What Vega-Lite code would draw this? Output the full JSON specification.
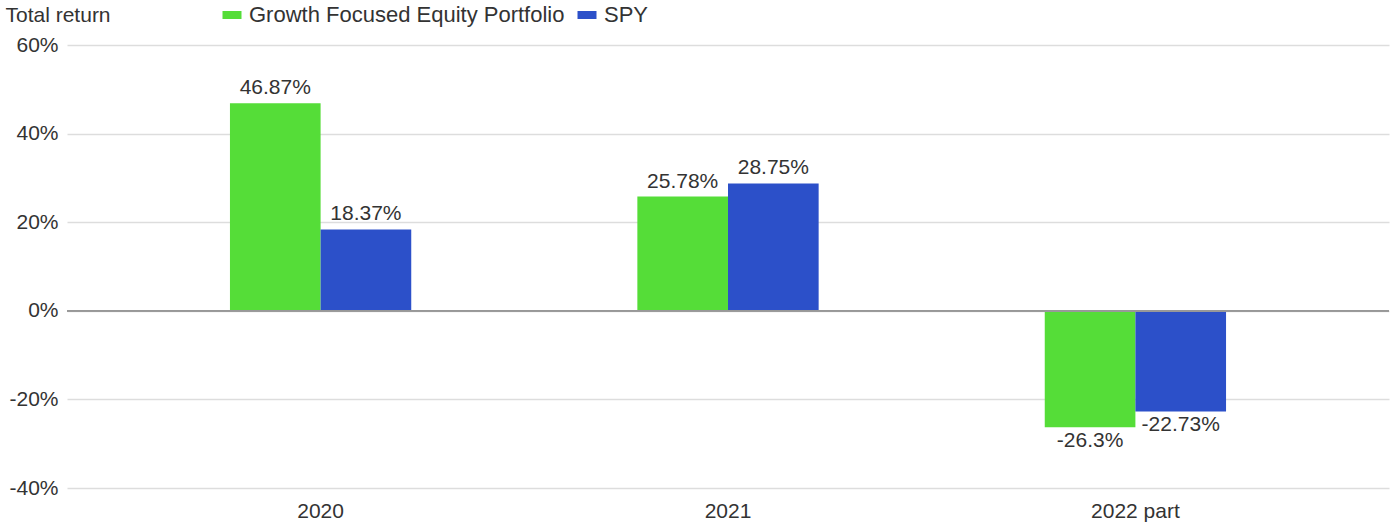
{
  "$schema": "https://vega.github.io/schema/vega-lite/v6.json",
  "width": 1322,
  "height": 443,
  "autosize": {"type": "none"},
  "padding": {"left": 67, "top": 45, "right": 3, "bottom": 35},
  "background": "white",
  "config": {
    "font": "Liberation Sans",
    "view": {"stroke": null},
    "axis": {"labelFont": "Liberation Sans", "labelFontSize": 21, "labelColor": "#333333"}
  },
  "data": {
    "values": [
      {"period": "2020", "series": "Growth Focused Equity Portfolio", "value": 46.87, "label": "46.87%"},
      {"period": "2020", "series": "SPY", "value": 18.37, "label": "18.37%"},
      {"period": "2021", "series": "Growth Focused Equity Portfolio", "value": 25.78, "label": "25.78%"},
      {"period": "2021", "series": "SPY", "value": 28.75, "label": "28.75%"},
      {"period": "2022 part", "series": "Growth Focused Equity Portfolio", "value": -26.3, "label": "-26.3%"},
      {"period": "2022 part", "series": "SPY", "value": -22.73, "label": "-22.73%"}
    ]
  },
  "encoding": {
    "x": {
      "field": "period", "type": "nominal", "sort": null,
      "scale": {"paddingInner": 0.555, "paddingOuter": 0.4},
      "axis": {"title": null, "labelAngle": 0, "domain": false, "ticks": false, "labelPadding": 12, "grid": false}
    },
    "xOffset": {"field": "series", "type": "nominal", "scale": {"paddingInner": 0, "paddingOuter": 0}},
    "y": {
      "field": "value", "type": "quantitative",
      "scale": {"domain": [-40, 60], "nice": false, "zero": false},
      "axis": {
        "values": [-40, -20, 0, 20, 40, 60],
        "labelExpr": "datum.value + '%'",
        "domain": false, "ticks": false, "labelPadding": 9,
        "gridColor": "#dddddd", "gridWidth": 1.3,
        "title": "Total return", "titleAngle": 0, "titleAlign": "left", "titleBaseline": "middle",
        "titleX": -62, "titleY": -30, "titleFontSize": 21, "titleFontWeight": "normal", "titleColor": "#333333", "titleFont": "Liberation Sans"
      }
    }
  },
  "layer": [
    {
      "mark": {"type": "bar"},
      "encoding": {
        "color": {
          "field": "series", "type": "nominal",
          "scale": {"domain": ["Growth Focused Equity Portfolio", "SPY"], "range": ["#55DD38", "#2C50C9"]},
          "legend": {
            "title": null, "orient": "none", "direction": "horizontal",
            "legendX": 154, "legendY": -41,
            "symbolType": "M-1,-0.42H1V0.42H-1Z", "symbolSize": 361, "symbolStrokeWidth": 0,
            "labelFontSize": 22, "labelColor": "#333333", "labelFont": "Liberation Sans", "labelLimit": 0,
            "columnPadding": 11, "labelOffset": 6
          }
        }
      }
    },
    {
      "mark": {"type": "rule", "color": "#999999", "strokeWidth": 1.3},
      "encoding": {"y": {"datum": 0}, "x": {"value": 0}, "x2": {"value": 1322}, "xOffset": null}
    },
    {
      "transform": [{"filter": "datum.value >= 0"}],
      "mark": {"type": "text", "baseline": "alphabetic", "dy": -9, "fontSize": 21, "color": "#333333"},
      "encoding": {"text": {"field": "label"}}
    },
    {
      "transform": [{"filter": "datum.value < 0"}],
      "mark": {"type": "text", "baseline": "top", "dy": 3, "fontSize": 21, "color": "#333333"},
      "encoding": {"text": {"field": "label"}}
    }
  ]
}
